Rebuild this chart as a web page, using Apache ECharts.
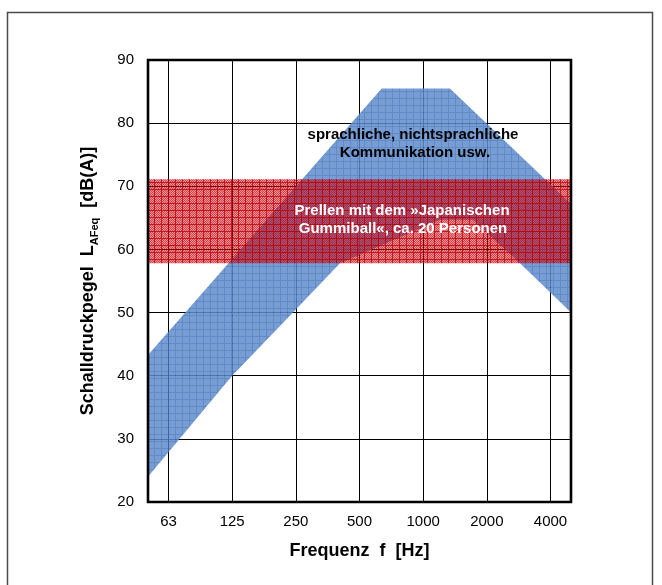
<!DOCTYPE html>
<html>
<head>
<meta charset="utf-8">
<script src="https://cdn.jsdelivr.net/npm/echarts@6/dist/echarts.min.js"></script>
<style>
html,body{margin:0;padding:0;background:#fff;}
#chart{width:662px;height:585px;}
</style>
</head>
<body>
<div id="chart"></div>
<script>
// ---- data ----
const tickLabels = ['63', '125', '250', '500', '1000', '2000', '4000'];
const freqRange = [51.2, 5120];
const levelRange = [20, 90];
const levelStep = 10;

// speech / non-speech communication band (outer edge left->right, inner edge right->left)
const speechOuterFreq = [51.2, 652, 1371, 5120];
const speechOuterLevel = [43.3, 85.5, 85.5, 67.2];
const speechInnerFreq = [5120, 2940, 1760, 1230, 414, 256, 128, 51.2];
const speechInnerLevel = [50, 57.8, 64.7, 64.7, 57.8, 50.5, 40, 24];

// rubber ball bouncing band
const ballFreq = [51.2, 5120, 5120, 51.2];
const ballLevel = [57.8, 57.8, 71.1, 71.1];

const speechLabel = ['sprachliche, nichtsprachliche', 'Kommunikation usw.'];
const ballLabel = ['Prellen mit dem »Japanischen', 'Gummiball«, ca. 20 Personen'];

// ---- patterns ----
function makePattern(size, fn) {
  const c = document.createElement('canvas');
  c.width = size; c.height = size;
  const ctx = c.getContext('2d');
  for (let i = 0; i < size; i++) {
    for (let j = 0; j < size; j++) {
      ctx.fillStyle = fn(i, j);
      ctx.fillRect(i, j, 1, 1);
    }
  }
  return c;
}
const bluePattern = makePattern(7, (i, j) => (i === 0 || j === 0) ? 'rgba(72,118,186,0.85)' : 'rgba(94,140,204,0.85)');
const redPattern = makePattern(7, (i, j) => {
  if (i === 0 || j === 0) return 'rgba(185,0,0,0.9)';
  return ((i + j) % 2 === 0) ? 'rgba(205,0,15,0.75)' : 'rgba(205,0,15,0.42)';
});

const FONT = '"Liberation Sans", Arial, Helvetica, sans-serif';

function polygonSeries(name, xs, ys, pattern, z) {
  return {
    type: 'custom',
    name: name,
    z: z,
    clip: true,
    data: xs.map((x, i) => [x, ys[i]]),
    renderItem: function (params, api) {
      if (params.dataIndex !== 0) return null;
      const pts = xs.map((x, i) => api.coord([x, ys[i]]));
      return {
        type: 'polygon',
        shape: { points: pts },
        style: { fill: { image: pattern, repeat: 'repeat' }, stroke: null }
      };
    }
  };
}

const chart = echarts.init(document.getElementById('chart'), null, { renderer: 'canvas' });

const gridLeft = 148, gridTop = 60, gridW = 423, gridH = 442;

chart.setOption({
  animation: false,
  backgroundColor: '#fff',
  grid: { left: gridLeft, top: gridTop, width: gridW, height: gridH, containLabel: false },
  xAxis: {
    type: 'log',
    logBase: 2,
    min: freqRange[0],
    max: freqRange[1],
    name: 'Frequenz  f  [Hz]',
    nameLocation: 'middle',
    nameGap: 40,
    nameTextStyle: { fontSize: 18, fontWeight: 'bold', color: '#000', fontFamily: FONT },
    axisLine: { show: false },
    axisTick: { show: false },
    splitLine: { show: true, lineStyle: { color: '#000', width: 1 } },
    axisLabel: {
      interval: 0,
      showMinLabel: false,
      showMaxLabel: false,
      fontSize: 15,
      color: '#000',
      fontFamily: FONT,
      margin: 12,
      formatter: function (v) {
        const l = Math.log2(v);
        const r = Math.round(l);
        if (Math.abs(l - r) > 1e-6) return '';
        return tickLabels[r - 6] || '';
      }
    }
  },
  yAxis: {
    type: 'value',
    min: levelRange[0],
    max: levelRange[1],
    interval: levelStep,
    name: '{a|Schalldruckpegel  L}{s|AFeq}{a|  [dB(A)]}',
    nameLocation: 'middle',
    nameRotate: 90,
    nameGap: 48,
    nameTextStyle: {
      rich: {
        a: { fontSize: 18, fontWeight: 'bold', color: '#000', fontFamily: FONT, lineHeight: 24 },
        s: { fontSize: 11, fontWeight: 'bold', color: '#000', fontFamily: FONT, lineHeight: 24, verticalAlign: 'bottom' }
      }
    },
    axisLine: { show: false },
    axisTick: { show: false },
    splitLine: { show: true, lineStyle: { color: '#000', width: 1 } },
    axisLabel: { fontSize: 15, color: '#000', fontFamily: FONT, margin: 14 }
  },
  series: [
    polygonSeries('sprachliche Kommunikation',
      speechOuterFreq.concat(speechInnerFreq),
      speechOuterLevel.concat(speechInnerLevel), bluePattern, 2),
    polygonSeries('Gummiball', ballFreq, ballLevel, redPattern, 3)
  ],
  graphic: [
    {
      type: 'rect', z: 100, silent: true,
      shape: { x: 7.5, y: 12.5, width: 645, height: 600 },
      style: { fill: 'none', stroke: '#4a4a4a', lineWidth: 1.5 }
    },
    {
      type: 'rect', z: 100, silent: true,
      shape: { x: gridLeft, y: gridTop, width: gridW, height: gridH },
      style: { fill: 'none', stroke: '#000', lineWidth: 2.6 }
    },
    {
      type: 'text', z: 101, silent: true, x: 413, y: 135,
      style: { text: speechLabel[0], font: 'bold 15px ' + FONT, fill: '#000', align: 'center', verticalAlign: 'middle', textAlign: 'center', textVerticalAlign: 'middle' }
    },
    {
      type: 'text', z: 101, silent: true, x: 415, y: 153,
      style: { text: speechLabel[1], font: 'bold 15px ' + FONT, fill: '#000', align: 'center', verticalAlign: 'middle', textAlign: 'center', textVerticalAlign: 'middle' }
    },
    {
      type: 'text', z: 101, silent: true, x: 402, y: 211,
      style: { text: ballLabel[0], font: 'bold 15px ' + FONT, fill: '#fff', align: 'center', verticalAlign: 'middle', textAlign: 'center', textVerticalAlign: 'middle' }
    },
    {
      type: 'text', z: 101, silent: true, x: 403, y: 229,
      style: { text: ballLabel[1], font: 'bold 15px ' + FONT, fill: '#fff', align: 'center', verticalAlign: 'middle', textAlign: 'center', textVerticalAlign: 'middle' }
    }
  ]
});
</script>
</body>
</html>
